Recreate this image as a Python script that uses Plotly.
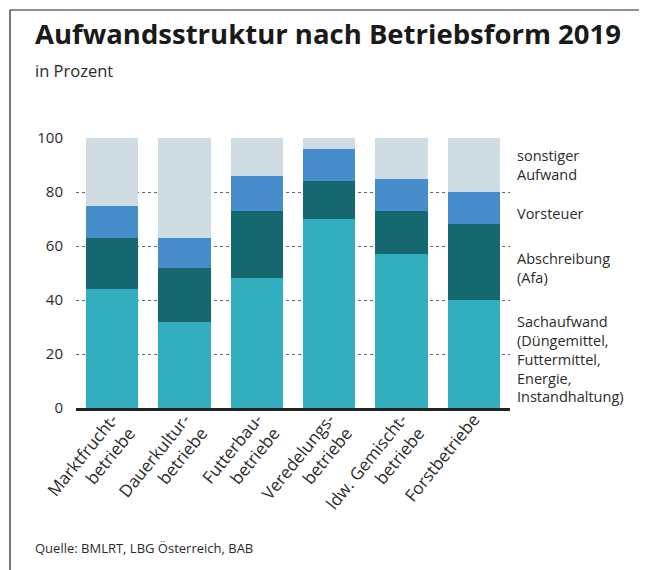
import plotly.graph_objects as go

# data (percent of total expenses per farm type)
betriebsformen = [
    "Marktfrucht-<br>betriebe",
    "Dauerkultur-<br>betriebe",
    "Futterbau-<br>betriebe",
    "Veredelungs-<br>betriebe",
    "ldw. Gemischt-<br>betriebe",
    "Forstbetriebe",
]
sachaufwand = [44, 32, 48, 70, 57, 40]
abschreibung = [19, 20, 25, 14, 16, 28]
vorsteuer = [12, 11, 13, 12, 12, 12]
sonstiger = [25, 37, 14, 4, 15, 20]

y_ticks = [0, 20, 40, 60, 80, 100]

legend_labels = [
    "sonstiger<br>Aufwand",
    "Vorsteuer",
    "Abschreibung<br>(Afa)",
    "Sachaufwand<br>(Düngemittel,<br>Futtermittel,<br>Energie,<br>Instandhaltung)",
]
legend_y = [90, 72, 52, 18]

FONT = "Open Sans"
TEXT = "#2b2b2b"
OFF = 8  # page body margin, layout below is in window pixels
W, H = 647 - OFF, 570 - OFF
PLOT_L, PLOT_R, PLOT_T, PLOT_B = 76, 510, 138, 408
M_L, M_T = PLOT_L - OFF, PLOT_T - OFF
M_R, M_B = W - (PLOT_R - OFF), H - (PLOT_B - OFF)
PW, PH = PLOT_R - PLOT_L, PLOT_B - PLOT_T


def px_x(x):
    return (x - PLOT_L) / PW


def px_y(y):
    return (PLOT_B - y) / PH


fig = go.Figure()

series = [
    ("Sachaufwand", sachaufwand, "#33aebe"),
    ("Abschreibung", abschreibung, "#156870"),
    ("Vorsteuer", vorsteuer, "#478ccb"),
    ("sonstiger Aufwand", sonstiger, "#cfdce3"),
]
for name, vals, color in series:
    fig.add_trace(
        go.Bar(
            x=betriebsformen,
            y=vals,
            name=name,
            marker=dict(color=color, line=dict(width=0)),
        )
    )

# labels on the right act as legend
for txt, yv in zip(legend_labels, legend_y):
    fig.add_annotation(
        text=txt, xref="paper", yref="y", x=px_x(515), y=yv,
        xanchor="left", yanchor="middle", align="left", showarrow=False,
        font=dict(family=FONT, size=14.5, color=TEXT),
    )

# title, subtitle, source
fig.add_annotation(
    text="<b>Aufwandsstruktur nach Betriebsform 2019</b>",
    xref="paper", yref="paper", x=px_x(33), y=px_y(33),
    xanchor="left", yanchor="middle", showarrow=False,
    font=dict(family=FONT, size=27.5, color="#1a1a1a"),
)
fig.add_annotation(
    text="in Prozent",
    xref="paper", yref="paper", x=px_x(33), y=px_y(71),
    xanchor="left", yanchor="middle", showarrow=False,
    font=dict(family=FONT, size=16.5, color=TEXT),
)
fig.add_annotation(
    text="Quelle: BMLRT, LBG Österreich, BAB",
    xref="paper", yref="paper", x=px_x(33), y=px_y(548),
    xanchor="left", yanchor="middle", showarrow=False,
    font=dict(family=FONT, size=13, color=TEXT),
)

# frame lines (left and top)
fig.add_shape(type="line", xref="paper", yref="paper",
              x0=px_x(10), x1=px_x(10), y0=px_y(10), y1=px_y(600),
              line=dict(color="#222", width=1.2))
fig.add_shape(type="line", xref="paper", yref="paper",
              x0=px_x(10), x1=px_x(700), y0=px_y(10), y1=px_y(10),
              line=dict(color="#222", width=1.2))

fig.update_layout(
    width=W, height=H,
    margin=dict(l=M_L, r=M_R, t=M_T, b=M_B, pad=0),
    barmode="stack",
    bargap=0.28,
    showlegend=False,
    plot_bgcolor="white",
    paper_bgcolor="white",
    font=dict(family=FONT, color=TEXT),
)
fig.update_xaxes(
    showline=True, linecolor="#222", linewidth=2.5,
    tickangle=-51, tickfont=dict(size=17, color=TEXT),
    ticklabelstandoff=-8,
    showgrid=False, ticks="",
)
fig.update_yaxes(
    range=[0, 100], tickvals=y_ticks,
    showgrid=True, gridcolor="#666", griddash="dot", gridwidth=1,
    zeroline=False, showline=False,
    ticks="outside", ticklen=9, tickcolor="rgba(0,0,0,0)",
    tickfont=dict(size=15, color=TEXT),
)

fig.write_html("out.html")
